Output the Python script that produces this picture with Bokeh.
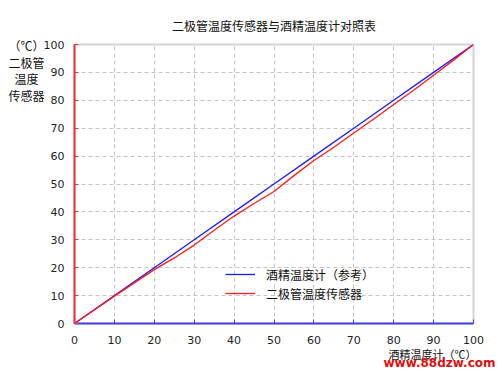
from bokeh.plotting import figure
from bokeh.models import Label, Range1d, Legend, LegendItem, FixedTicker
from bokeh.embed import file_html
from bokeh.resources import INLINE

# Data
ref_x = [0, 10, 20, 30, 40, 50, 60, 70, 80, 90, 100]
ref_y = [0, 10, 20, 30, 40, 50, 60, 70, 80, 90, 100]
diode_x = [0, 10, 20, 25, 30, 35, 40, 45, 50, 55, 60, 65, 70, 75, 80, 85, 90, 95, 100]
diode_y = [0, 9.8, 19.3, 23.5, 28.1, 33.4, 38.5, 43.0, 47.3, 53.0, 58.4, 63.2, 68.3, 73.3, 78.5, 83.6, 89.0, 94.4, 100]
ticks = [0, 10, 20, 30, 40, 50, 60, 70, 80, 90, 100]

title_text = "二极管温度传感器与酒精温度计对照表"
ylab_lines = ["（℃）", "二极管", "温度", "传感器"]
xlab = "酒精温度计（℃）"
leg_ref = "酒精温度计（参考）"
leg_diode = "二极管温度传感器"
watermark = "www.88dzw.com"

CJK = "Noto Sans CJK SC"
FL, FB = 74, 323

p = figure(width=500, height=377, output_backend="svg", toolbar_location=None,
           x_range=Range1d(0, 100), y_range=Range1d(0, 100),
           min_border_left=FL, min_border_right=27, min_border_top=44, min_border_bottom=54)

p.title.text = title_text
p.title.align = "center"
p.title.text_font = CJK
p.title.text_font_size = "12px"
p.title.text_font_style = "normal"
p.title.text_color = "#111111"
p.title.offset = -4
p.title.standoff = 21

p.outline_line_color = "#d4d4d4"
p.outline_line_width = 2

for g in (p.xgrid[0], p.ygrid[0]):
    g.grid_line_color = "#c4c4c4"
    g.grid_line_dash = "4 3"
    g.ticker = FixedTicker(ticks=ticks[1:-1])

xa = p.xaxis[0]
xa.ticker = FixedTicker(ticks=ticks)
xa.axis_line_color = "#4444dd"
xa.axis_line_width = 2
xa.major_tick_line_color = "#4444dd"
xa.major_tick_in = 4
xa.major_tick_out = 0
xa.minor_tick_line_color = None
xa.major_label_text_font = "DejaVu Sans"
xa.major_label_text_font_size = "11px"
xa.major_label_text_color = "#222222"
xa.major_label_standoff = 12

ya = p.yaxis[0]
ya.ticker = FixedTicker(ticks=ticks)
ya.axis_line_color = "#ee3333"
ya.axis_line_width = 2
ya.major_tick_line_color = "#ee3333"
ya.major_tick_in = 4
ya.major_tick_out = 0
ya.minor_tick_line_color = None
ya.major_label_text_font = "DejaVu Sans"
ya.major_label_text_font_size = "11px"
ya.major_label_text_color = "#222222"
ya.major_label_standoff = 10

r1 = p.line(ref_x, ref_y, line_color="#1a1aff", line_width=1.3)
r2 = p.line(diode_x, diode_y, line_color="#ff1a1a", line_width=1.3)

legend = Legend(items=[LegendItem(label=leg_ref, renderers=[r1]),
                       LegendItem(label=leg_diode, renderers=[r2])],
                location=(151, 21), orientation="vertical")
legend.border_line_color = None
legend.background_fill_alpha = 0
legend.glyph_width = 30
legend.glyph_height = 18
legend.label_height = 18
legend.label_text_font = CJK
legend.label_text_font_size = "12px"
legend.label_text_color = "#111111"
legend.spacing = 1
legend.label_standoff = 11
legend.padding = 0
p.add_layout(legend, "center")

# Stacked y-axis caption (multi-line), canvas coordinates, in the left panel
p.add_layout(Label(x=26, y=70, x_units="canvas", y_units="canvas", text="\n".join(ylab_lines),
                   text_font=CJK, text_font_size="12px", text_color="#111111",
                   text_align="center", text_baseline="middle", text_line_height=0.98), "left")

# x-axis caption and watermark, in the bottom panel
p.add_layout(Label(x=432, y=353, x_units="canvas", y_units="canvas", text=xlab,
                   text_font=CJK, text_font_size="11px", text_color="#111111",
                   text_align="center", text_baseline="middle"), "below")
p.add_layout(Label(x=439, y=362, x_units="canvas", y_units="canvas", text=watermark,
                   text_font="DejaVu Sans", text_font_size="12px", text_font_style="bold",
                   text_color="#dd1111", text_align="center", text_baseline="middle"), "below")

open("out.html", "w").write(file_html(p, INLINE))
